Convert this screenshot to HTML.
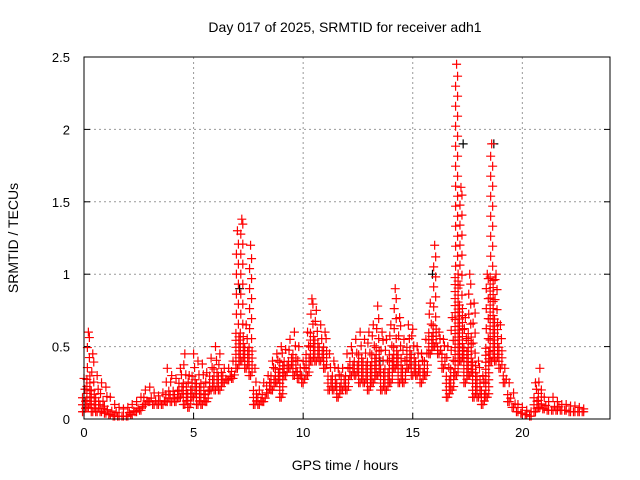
<!DOCTYPE html>
<html><head><meta charset="utf-8"><style>
body{margin:0;background:#fff;}
svg{display:block;font-family:"Liberation Sans",sans-serif;}
</style></head><body>
<svg id="chart" width="640" height="480" viewBox="0 0 640 480">
<rect width="640" height="480" fill="#fff"/>
<text x="345" y="32" font-size="14" text-anchor="middle">Day 017 of 2025, SRMTID for receiver adh1</text>
<g id="grid"></g>
<g id="ticks"></g>
<g id="marks"></g>
<rect x="84" y="57" width="526" height="362" fill="none" stroke="#000" stroke-width="1"/>
<text x="345" y="470" font-size="14" text-anchor="middle">GPS time / hours</text>
<text transform="translate(18,238) rotate(-90)" font-size="14" text-anchor="middle">SRMTID / TECUs</text>
</svg>
<script>
const xTicks=[0,5,10,15,20];
const yTicks=[0,0.5,1,1.5,2,2.5];
const yTickLabels=["0","0.5","1","1.5","2","2.5"];
const hours=[0,0.2,0.4,0.6,0.8,1,1.2,1.4,1.6,1.8,2,2.2,2.4,2.6,2.8,3,3.2,3.4,3.6,3.8,4,4.2,4.4,4.6,4.8,5,5.2,5.4,5.6,5.8,6,6.2,6.4,6.6,6.8,7,7.2,7.4,7.6,7.8,8,8.2,8.4,8.6,8.8,9,9.2,9.4,9.6,9.8,10,10.2,10.4,10.6,10.8,11,11.2,11.4,11.6,11.8,12,12.2,12.4,12.6,12.8,13,13.2,13.4,13.6,13.8,14,14.2,14.4,14.6,14.8,15,15.2,15.4,15.6,15.8,16,16.2,16.4,16.6,16.8,17,17.2,17.4,17.6,17.8,18,18.2,18.4,18.6,18.8,19,19.2,19.4,19.6,19.8,20,20.2,20.4,20.6,20.8,21,21.2,21.4,21.6,21.8,22,22.2,22.4,22.6,22.8];
const hiVals=[.28,.6,.45,.3,.25,.22,.15,.1,.08,.07,.08,.1,.12,.15,.2,.22,.18,.16,.18,.35,.3,.28,.35,.45,.3,.45,.4,.38,.32,.42,.5,.45,.35,.35,.4,1.3,1.38,.65,1.2,.35,.2,.25,.3,.4,.45,.5,.48,.55,.6,.5,.4,.6,.83,.75,.65,.6,.45,.4,.35,.35,.45,.5,.55,.6,.55,.6,.65,.78,.6,.55,.65,.9,.7,.55,.65,.62,.5,.45,.55,.8,1.2,.6,.55,.5,.7,2.45,1.6,.7,1.0,.8,.4,.3,1.0,1.9,1.0,.65,.35,.25,.18,.1,.08,.06,.05,.25,.35,.15,.12,.15,.12,.1,.1,.09,.09,.08,.07];
const midVals=[.15,.3,.2,.15,.12,.1,.07,.05,.04,.04,.05,.06,.08,.1,.15,.16,.14,.13,.14,.2,.2,.2,.25,.25,.2,.3,.25,.25,.2,.3,.35,.32,.3,.3,.33,.6,.6,.5,.5,.2,.15,.18,.25,.3,.35,.4,.4,.42,.45,.35,.3,.45,.6,.55,.5,.5,.3,.3,.25,.3,.3,.4,.4,.45,.4,.4,.45,.5,.35,.35,.45,.5,.45,.35,.5,.45,.4,.35,.4,.6,.65,.5,.45,.3,.35,1.0,.8,.5,.6,.4,.3,.2,.5,1.0,.7,.5,.3,.18,.12,.07,.06,.04,.04,.15,.2,.1,.08,.1,.09,.08,.08,.07,.07,.06,.06];
const loVals=[.05,.08,.05,.05,.05,.04,.03,.02,.02,.02,.02,.03,.05,.06,.1,.12,.1,.1,.1,.12,.12,.12,.15,.1,.08,.15,.1,.1,.12,.2,.2,.2,.25,.27,.28,.35,.4,.35,.3,.1,.1,.12,.18,.2,.25,.15,.3,.35,.3,.28,.25,.3,.4,.4,.4,.35,.2,.2,.15,.2,.2,.3,.3,.25,.25,.2,.25,.3,.2,.2,.25,.35,.25,.25,.35,.3,.3,.25,.3,.45,.5,.45,.35,.15,.2,.3,.4,.25,.3,.15,.15,.1,.15,.4,.4,.35,.25,.12,.08,.05,.04,.03,.02,.05,.08,.07,.06,.06,.06,.06,.06,.05,.05,.05,.05];
const blackHours=[7.1,13.5,15.9,17.3,18.7];
const blackVals=[0.9,0.4,1.0,1.9,1.9];

const X0=84,X1=610,Y0=419,Y1=57;
const xs=h=>X0+(h/24)*(X1-X0);
const ys=v=>Y0-(v/2.5)*(Y0-Y1);
const NS="http://www.w3.org/2000/svg";
function mk(tag,attrs,parent){const e=document.createElementNS(NS,tag);for(const k in attrs)e.setAttribute(k,attrs[k]);parent.appendChild(e);return e;}
const grid=document.getElementById('grid'),ticks=document.getElementById('ticks'),marks=document.getElementById('marks');
xTicks.forEach(t=>{
  const x=xs(t);
  if(t>0){const g=mk('line',{x1:x,x2:x,y1:Y1,y2:Y0,stroke:'#999','stroke-dasharray':'2,3'},grid);
  
  }
  mk('line',{x1:x,x2:x,y1:Y0,y2:Y0-6,stroke:'#000'},ticks);
  const l=mk('text',{x:x,y:Y0+18,'font-size':13,'text-anchor':'middle'},ticks);
  l.textContent=String(t);
  
  
});
yTicks.forEach((t,i)=>{
  const y=ys(t);
  if(t>0&&t<2.5){const g=mk('line',{x1:X0,x2:X1,y1:y,y2:y,stroke:'#999','stroke-dasharray':'2,3'},grid);
  
  }
  mk('line',{x1:X0,x2:X0+6,y1:y,y2:y,stroke:'#000'},ticks);
  mk('line',{x1:X1,x2:X1-6,y1:y,y2:y,stroke:'#000'},ticks);
  const l=mk('text',{x:X0-14,y:y+5,'font-size':13,'text-anchor':'end'},ticks);
  l.textContent=yTickLabels[i];
  
  
});
function plus(h,v,color,name,dx){
  const x=xs(h)+(dx||0),y=ys(v);
  const p=mk('path',{d:`M${x-4.5},${y}h9M${x},${y-4.5}v9`,stroke:color,'stroke-width':1.2,fill:'none'},marks);
  
  
}
blackHours.forEach((h,i)=>plus(h,blackVals[i],'#000','black-point'));
hours.forEach((h,i)=>{
  const yl=ys(loVals[i]),ym=ys(midVals[i]),yh=ys(hiVals[i]);
  // dense core between low and mid
  let k=0;
  for(let y=yl;y>=ym-0.5;y-=3.5){plus(h,(Y0-y)/(Y0-Y1)*2.5,'#f00','srmtid-point-core',(k%2?1.5:-1.5));k++;}
  // sparser spike between mid and high
  for(let y=ym-8;y>yh+4;y-=10){plus(h,(Y0-y)/(Y0-Y1)*2.5,'#f00','srmtid-point-spike',(k%2?1:-1));k++;}
  plus(h,loVals[i],'#f00','srmtid-point-low');
  plus(h,hiVals[i],'#f00','srmtid-point-high');
});
</script>
</body></html>
